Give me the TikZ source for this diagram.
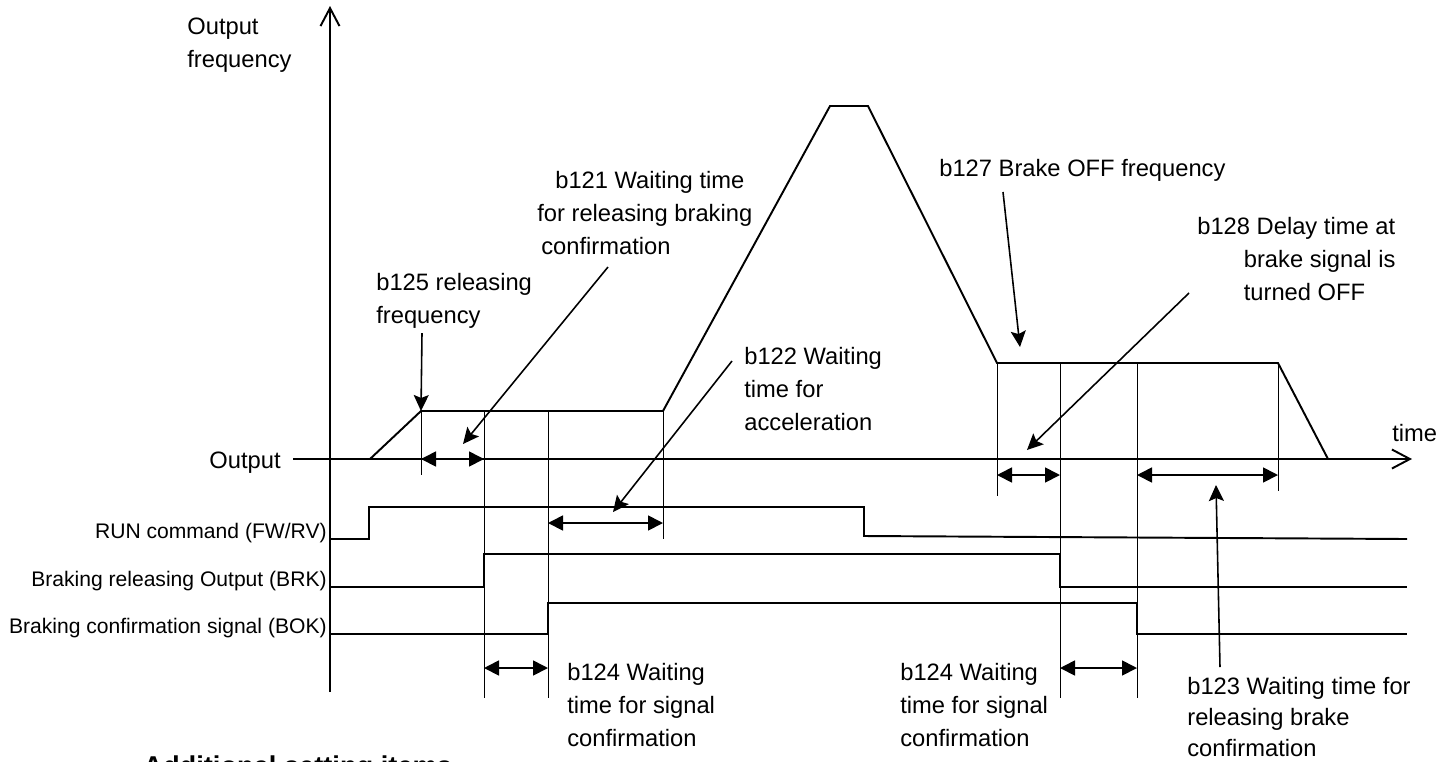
\documentclass[tikz,border=0pt]{standalone}
\usepackage{fontspec}
\setmainfont{Liberation Sans}
\usetikzlibrary{arrows.meta}
\tikzset{
  ax/.style={line width=1.1pt,-{Straight Barb[length=3.6mm,width=3.8mm]}},
  sig/.style={line width=1.1pt,line join=miter},
  gd/.style={line width=.55pt},
  span/.style={line width=1pt,{Triangle[length=3mm,width=3mm]}-{Triangle[length=3mm,width=3mm]}},
  ptr/.style={line width=.9pt,-{Stealth[length=3.2mm,width=3mm,inset=.6mm]}},
  lb/.style={font=\fontsize{13.5}{18.5}\selectfont,inner sep=0pt,align=left},
  sl/.style={font=\fontsize{12}{14}\selectfont,inner sep=0pt},
  ttl/.style={font=\fontsize{15.5}{18}\selectfont\bfseries,inner sep=0pt},
}
\begin{document}
\begin{tikzpicture}[x=0.2mm,y=-0.2mm]
\useasboundingbox (0,0) rectangle (1452,761);
\clip (0,0) rectangle (1452,761);
% ---------------- axes
\coordinate (ybot) at (330,692); \coordinate (ytop) at (330,6);
\coordinate (xbeg) at (293,459); \coordinate (xend) at (1412,459);
\draw[ax] (ybot) -- (ytop);
\draw[ax] (xbeg) -- (xend);
% multi-line labels sit on the baseline of their last line
\node[lb,anchor=base west] (ylab) at (187,67.5) {Output\\frequency};
\node[lb,anchor=base west] (xlab) at (1392,441) {time};
\node[lb,anchor=base east] (olab) at (281,468) {Output};
% ---------------- output frequency
\path (370,459) coordinate (f0) (421,411) coordinate (f1) (663,411) coordinate (f2)
      (830,106) coordinate (f3) (868,106) coordinate (f4) (997,363) coordinate (f5)
      (1278,363) coordinate (f6) (1328,459) coordinate (f7);
\draw[sig] (f0) -- (f1) -- (f2) -- (f3) -- (f4) -- (f5) -- (f6) -- (f7);
% guide lines
\draw[gd] (f1) -- (421,475) (484,411) -- (484,698) (548,411) -- (548,698)
  (f2) -- (663,539) (f5) -- (997,496) (1060,363) -- (1060,698)
  (1137,363) -- (1137,698) (f6) -- (1278,491);
% ---------------- signals
\draw[sig] (330,539) -- (369,539) -- (369,507) -- (864,507) -- (864,536) -- (1407,539);
\draw[sig] (330,587) -- (484,587) -- (484,554) -- (1060,554) -- (1060,587) -- (1407,587);
\draw[sig] (330,634) -- (548,634) -- (548,603) -- (1137,603) -- (1137,634) -- (1407,634);
\node[sl,anchor=base east] (run) at (327,538) {RUN command (FW/RV)};
\node[sl,anchor=base east] (brk) at (327,586) {Braking releasing Output (BRK)};
\node[sl,anchor=base east] (bok) at (327,633) {Braking confirmation signal (BOK)};
% ---------------- times
\draw[span] (421,459) -- (484,459);
\draw[span] (548,523) -- (663,523);
\draw[span] (997,475) -- (1060,475);
\draw[span] (1137,475) -- (1278,475);
\draw[span] (484,668) -- (548,668);
\draw[span] (1060,668) -- (1137,668);
% ---------------- parameters
\node[lb,anchor=base west] (b125) at (376,323.5) {b125 releasing\\frequency};
\node[lb,anchor=base west] (b121) at (537,254)
  {\hspace*{3.6mm}b121 Waiting time\\for releasing braking\\\hspace*{.8mm}confirmation};
\node[lb,anchor=base west] (b122) at (744,430) {b122 Waiting\\time for\\acceleration};
\node[lb,anchor=base west] (b127) at (939,176) {b127 Brake OFF frequency};
\node[lb,anchor=base west] (b128) at (1197,300)
  {b128 Delay time at\\\hspace*{9.3mm}brake signal is\\\hspace*{9.3mm}turned OFF};
\node[lb,anchor=base west] (b124a) at (567,746) {b124 Waiting\\time for signal\\confirmation};
\node[lb,anchor=base west] (b124b) at (900,746) {b124 Waiting\\time for signal\\confirmation};
\node[lb,anchor=base west,font=\fontsize{13.5}{17.5}\selectfont] (b123) at (1187,756)
  {b123 Waiting time for\\releasing brake\\confirmation};
\coordinate (t125) at (422,333); \coordinate (t121) at (608,267);
\coordinate (t122) at (732,361); \coordinate (t127) at (1003,192);
\coordinate (t128) at (1189,293); \coordinate (t123) at (1220,667);
\draw[ptr] (t125) -- (f1);
\draw[ptr] (t121) -- (463,444);
\draw[ptr] (t122) -- (613,512);
\draw[ptr] (t127) -- (1020,347);
\draw[ptr] (t128) -- (1027,450);
\draw[ptr] (t123) -- (1216,485);
\node[ttl,anchor=base west] (more) at (143,775) {Additional setting items};
\end{tikzpicture}
\end{document}
